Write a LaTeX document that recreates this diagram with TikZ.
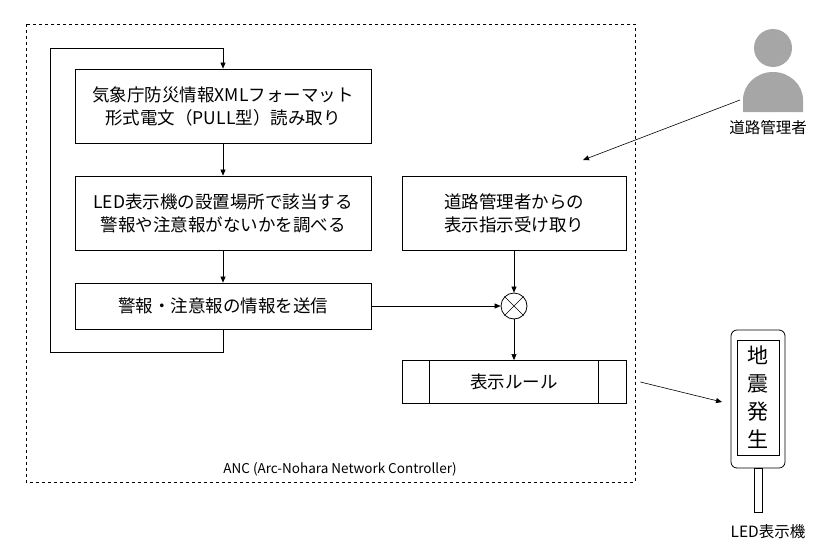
\documentclass[tikz,border=0pt]{standalone}
\usepackage{fontspec}
\setmainfont{Noto Sans CJK JP}
\usetikzlibrary{arrows.meta}
\begin{document}
\begin{tikzpicture}[x=1pt,y=-1pt,
  box/.style={draw,thick,line width=0.8pt,minimum width=296pt,minimum height=74pt,align=center,font=\fontsize{17.5}{23}\selectfont},
  arr/.style={-{Triangle[length=6pt,width=5pt]},line width=0.6pt},
  lbl/.style={font=\fontsize{15.5}{18}\selectfont}]
\useasboundingbox (0,0) rectangle (829,544);
\draw[dashed,line width=0.6pt] (26,24) rectangle (635,482);
\node[font=\fontsize{13.5}{15}\selectfont] (anc) at (340,469) {ANC (Arc-Nohara Network Controller)};
\node[box] (b1) at (223,106) {気象庁防災情報XMLフォーマット\\形式電文（PULL型）読み取り};
\node[box] (b2) at (223,213) {LED表示機の設置場所で該当する\\警報や注意報がないかを調べる};
\node[box,minimum height=46pt] (b3) at (223,306) {警報・注意報の情報を送信};
\node[box,minimum width=224pt] (b4) at (514,213) {道路管理者からの\\表示指示受け取り};
\node[draw,circle,minimum size=26pt,inner sep=0pt,line width=0.8pt] (x) at (514,306) {};
\draw[line width=0.6pt] (x.north west)--(x.south east) (x.north east)--(x.south west);
\node[box,minimum width=224pt,minimum height=43pt] (r) at (514,382) {表示ルール};
\draw[line width=0.6pt] ([xshift=28pt]r.north west)--([xshift=28pt]r.south west)
  ([xshift=-28pt]r.north east)--([xshift=-28pt]r.south east);
\draw[arr] (b1)--(b2);
\draw[arr] (b2)--(b3);
\draw[arr] (b3.south) -- (223,352) -- (50,352) -- (50,48) -- (223,48) -- (b1.north);
\draw[arr] (b3)--(x);
\draw[arr] (b4)--(x);
\draw[arr] (x)--(r);
% person
\fill[gray!70] (773,48) circle (19);
\fill[gray!70] (743,112) -- (743,100) arc[start angle=180,end angle=0,x radius=30,y radius=-28] -- (803,112) -- cycle;
\coordinate (p) at (740,100);
\node[lbl] (pl) at (768,128) {道路管理者};
\draw[arr] (p)--(583,160);
% LED
\draw[line width=0.8pt,rounded corners=6pt] (731,330) rectangle (785,468);
\draw[line width=0.8pt] (737,340) rectangle (779,455);
\node[inner sep=0pt,font=\fontsize{21}{28}\selectfont,align=center] (led) at (758,397) {地\\震\\発\\生};
\draw[line width=0.8pt] (754,468) rectangle (762,512);
\node[lbl] (ll) at (768,532) {LED表示機};
\draw[arr] (r.east)++(14,0) -- (722,402);
\end{tikzpicture}
\end{document}
